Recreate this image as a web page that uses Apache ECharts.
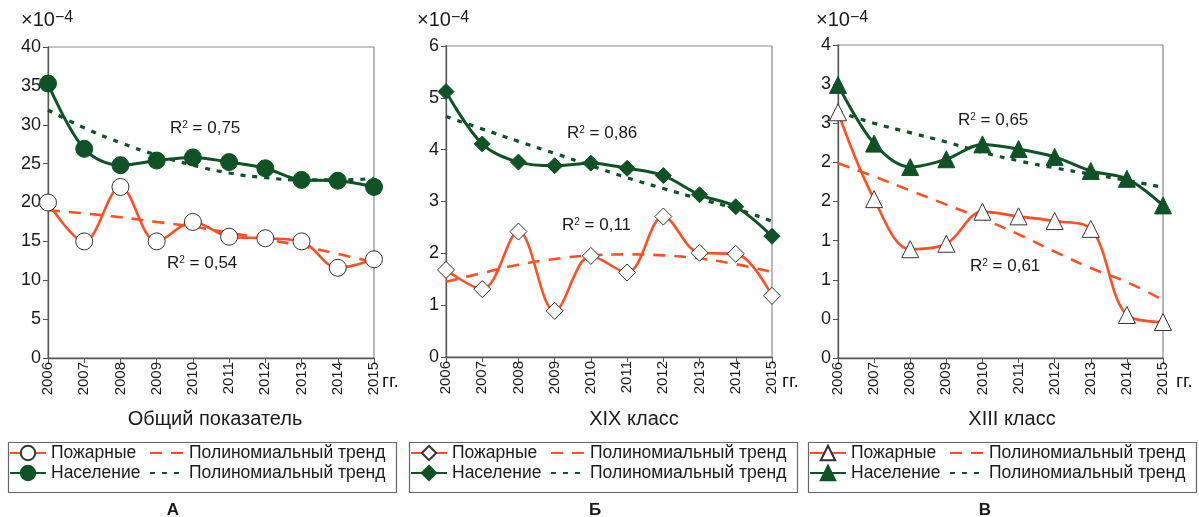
<!DOCTYPE html>
<html>
<head>
<meta charset="utf-8">
<script src="https://cdn.jsdelivr.net/npm/echarts@6/dist/echarts.min.js"></script>
<style>
html,body{margin:0;padding:0;background:#fff;}
#c{width:1199px;height:517px;}
</style>
</head>
<body>
<div id="c"></div>
<script>
// ---- data ----
var years = ['2006','2007','2008','2009','2010','2011','2012','2013','2014','2015'];

var firesA      = [20.0, 15.0, 22.0, 15.0, 17.5, 15.6, 15.4, 15.0, 11.6, 12.7];
var popA        = [35.3, 26.9, 24.8, 25.4, 25.8, 25.2, 24.4, 22.9, 22.8, 22.0];
var firesTrendA = [19.0, 18.6, 18.1, 17.5, 16.9, 16.1, 15.3, 14.4, 13.4, 12.3];
var popTrendA   = [31.9, 29.6, 27.7, 26.1, 24.8, 23.8, 23.2, 22.9, 22.9, 23.1];

var firesB      = [1.68, 1.31, 2.42, 0.89, 1.95, 1.63, 2.71, 2.01, 1.99, 1.18];
var popB        = [5.12, 4.11, 3.76, 3.69, 3.74, 3.64, 3.50, 3.13, 2.90, 2.33];
var firesTrendB = [1.45, 1.62, 1.78, 1.89, 1.96, 1.98, 1.96, 1.90, 1.79, 1.64];
var popTrendB   = [4.64, 4.40, 4.16, 3.93, 3.69, 3.46, 3.25, 3.05, 2.86, 2.62];

var firesC      = [3.14, 2.03, 1.39, 1.46, 1.87, 1.81, 1.75, 1.65, 0.55, 0.46];
var popC        = [3.49, 2.74, 2.44, 2.54, 2.73, 2.67, 2.57, 2.39, 2.29, 1.95];
var firesTrendC = [2.49, 2.32, 2.14, 1.96, 1.78, 1.58, 1.36, 1.15, 0.97, 0.74];
var popTrendC   = [3.15, 3.00, 2.88, 2.76, 2.63, 2.52, 2.43, 2.35, 2.27, 2.18];

var yTicksA = ['0','5','10','15','20','25','30','35','40'];
var yTicksB = ['0','1','2','3','4','5','6'];
var yTicksC = ['0','0','1','1','2','2','3','3','4'];

var r2Labels = [['0,75','0,54'],['0,86','0,11'],['0,65','0,61']];
var subtitles = ['Общий показатель','XIX класс','XIII класс'];
var panelLetters = ['А','Б','В'];
var fireName = 'Пожарные', popName = 'Население', trendName = 'Полиномиальный тренд';

// ---- styling ----
var RED = '#FF4F24', GREEN = '#0E5226', TXT = '#1a1a1a';
var FONT = '"Liberation Sans", Arial, sans-serif';

var grids = [
  {left:48, top:47, width:326, height:311},
  {left:446, top:46, width:326, height:311},
  {left:838, top:45, width:325, height:313}
];
var yCfg = [
  {max:40, interval:5, ticks:yTicksA},
  {max:6, interval:1, ticks:yTicksB},
  {max:4, interval:0.5, ticks:yTicksC}
];
var panels = [
  {fires:firesA, pop:popA, ft:firesTrendA, pt:popTrendA, fs:'circle', ps:'circle', fsz:17, psz:17, sfx:'A'},
  {fires:firesB, pop:popB, ft:firesTrendB, pt:popTrendB, fs:'diamond', ps:'diamond', fsz:17, psz:16, sfx:'B'},
  {fires:firesC, pop:popC, ft:firesTrendC, pt:popTrendC, fs:'triangle', ps:'triangle', fsz:17, psz:17, sfx:'C'}
];
var boxLeft = [8, 409, 808];

var option = {
  animation:false,
  backgroundColor:'#fff',
  textStyle:{fontFamily:FONT},
  grid: grids.map(function(g){return Object.assign({show:true, borderColor:'#8a8a8a', borderWidth:1.2, backgroundColor:'transparent'}, g);}),
  xAxis: [], yAxis: [], series: [], legend: [], graphic: []
};

panels.forEach(function(p, i){
  option.xAxis.push({
    type:'category', gridIndex:i, data:years, boundaryGap:false,
    axisLine:{lineStyle:{color:'#555', width:1.3}},
    axisTick:{show:true, length:5, lineStyle:{color:'#555'}},
    axisLabel:{rotate:90, fontSize:15, color:TXT, margin:4, fontFamily:FONT},
    splitLine:{show:false}
  });
  var yc = yCfg[i];
  option.yAxis.push({
    type:'value', gridIndex:i, min:0, max:yc.max, interval:yc.interval,
    axisLine:{show:true, lineStyle:{color:'#555', width:1.3}},
    axisTick:{show:true, length:5, lineStyle:{color:'#555'}},
    axisLabel:{fontSize:18, color:TXT, margin:7, fontFamily:FONT,
      formatter:(function(ticks, step){return function(v){return ticks[Math.round(v/step)];};})(yc.ticks, yc.interval)},
    splitLine:{show:false}
  });
  var s = p.sfx;
  option.series.push({
    name:trendName+'#'+s+'1', type:'line', xAxisIndex:i, yAxisIndex:i, data:p.ft,
    symbol:'none', smooth:true, lineStyle:{color:RED, width:2.6, type:[12,9]}, itemStyle:{color:RED}, z:2
  });
  option.series.push({
    name:trendName+'#'+s+'2', type:'line', xAxisIndex:i, yAxisIndex:i, data:p.pt,
    symbol:'none', smooth:true, lineStyle:{color:GREEN, width:3.2, type:[5,7]}, itemStyle:{color:GREEN}, z:2
  });
  option.series.push({
    name:fireName+'#'+s, type:'line', xAxisIndex:i, yAxisIndex:i, data:p.fires,
    symbol:p.fs, symbolSize:p.fsz, smooth:0.35,
    lineStyle:{color:RED, width:2.6}, itemStyle:{color:'#fff', borderColor:'#333', borderWidth:1}, z:3
  });
  option.series.push({
    name:popName+'#'+s, type:'line', xAxisIndex:i, yAxisIndex:i, data:p.pop,
    symbol:p.ps, symbolSize:p.psz, smooth:0.35,
    lineStyle:{color:GREEN, width:3}, itemStyle:{color:GREEN, borderColor:GREEN, borderWidth:1}, z:4
  });
  var fmt = function(n){return n.split('#')[0];};
  var lts = {fontSize:17.5, color:TXT, fontFamily:FONT};
  option.legend.push({
    orient:'vertical', left:boxLeft[i]+1, top:444, padding:0, itemGap:2,
    itemWidth:36, itemHeight:18, selectedMode:false, formatter:fmt, textStyle:lts,
    data:[fireName+'#'+s, popName+'#'+s]
  });
  option.legend.push({
    orient:'vertical', left:boxLeft[i]+141, top:444, padding:0, itemGap:2,
    itemWidth:34, itemHeight:18, selectedMode:false, formatter:fmt, textStyle:lts,
    data:[
      {name:trendName+'#'+s+'1', itemStyle:{opacity:0, color:'transparent', borderWidth:0}},
      {name:trendName+'#'+s+'2', itemStyle:{opacity:0, color:'transparent', borderWidth:0}}
    ]
  });
});

// graphic texts
var g = option.graphic;
var rich = {
  a:{fontSize:17, fontFamily:FONT, fill:TXT, color:TXT},
  s:{fontSize:10, fontFamily:FONT, fill:TXT, color:TXT, verticalAlign:'top'}
};
var expPos = [[21,27],[417,27],[816,27]];
var r2Pos = [[[170,130],[167,265]],[[567,135],[562,227]],[[958,122],[970,268]]];
var subPos = [215, 634, 1012];
var ggPos = [382, 782, 1176];
var letterPos = [173, 595, 985];
for (var i=0;i<3;i++){
  g.push({type:'text', left:expPos[i][0], top:expPos[i][1]-17, style:{text:'{a|×10}{s|−4}', rich:{a:{fontSize:20,fontFamily:FONT,fill:TXT,verticalAlign:'bottom'}, s:{fontSize:16,fontFamily:FONT,fill:TXT,verticalAlign:'top'}}}});
  for (var k=0;k<2;k++){
    g.push({type:'text', left:r2Pos[i][k][0], top:r2Pos[i][k][1]-10, style:{text:'{a|R}{s|2}{a| = '+r2Labels[i][k]+'}', rich:rich}});
  }
  g.push({type:'text', x:subPos[i], y:419, style:{text:subtitles[i], fontSize:20, fontFamily:FONT, fill:TXT, align:'center', verticalAlign:'middle'}});
  g.push({type:'text', x:ggPos[i], y:382, style:{text:'гг.', fontSize:19, fontFamily:FONT, fill:TXT, align:'left', verticalAlign:'middle'}});
  g.push({type:'rect', shape:{x:boxLeft[i]+0.5, y:442.5, width:388, height:50}, style:{fill:'none', stroke:'#666', lineWidth:1.2}, z:-1});
  g.push({type:'text', x:letterPos[i], y:510, style:{text:panelLetters[i], fontSize:17, fontWeight:'bold', fontFamily:FONT, fill:TXT, align:'center', verticalAlign:'middle'}});
}

var chart = echarts.init(document.getElementById('c'), null, {renderer:'canvas'});
chart.setOption(option);
</script>
</body>
</html>
